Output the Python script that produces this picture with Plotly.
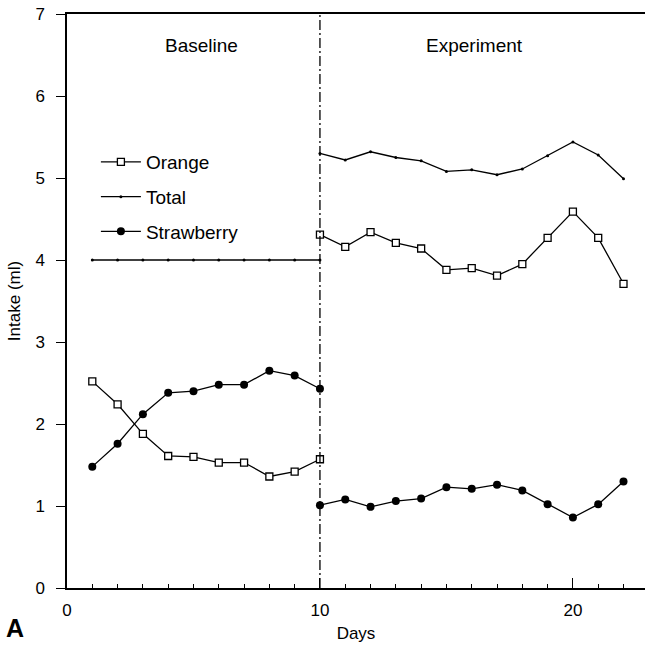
import plotly.graph_objects as go

# ---- data ----
days_baseline = [1, 2, 3, 4, 5, 6, 7, 8, 9, 10]
days_experiment = [10, 11, 12, 13, 14, 15, 16, 17, 18, 19, 20, 21, 22]

orange_baseline = [2.52, 2.24, 1.88, 1.61, 1.60, 1.53, 1.53, 1.36, 1.42, 1.57]
strawberry_baseline = [1.48, 1.76, 2.12, 2.38, 2.40, 2.48, 2.48, 2.65, 2.59, 2.43]
total_baseline = [4.0, 4.0, 4.0, 4.0, 4.0, 4.0, 4.0, 4.0, 4.0, 4.0]

orange_experiment = [4.31, 4.16, 4.34, 4.21, 4.14, 3.88, 3.90, 3.81, 3.95, 4.27, 4.59, 4.27, 3.71]
strawberry_experiment = [1.01, 1.08, 0.99, 1.06, 1.09, 1.23, 1.21, 1.26, 1.19, 1.02, 0.86, 1.02, 1.30]
total_experiment = [5.30, 5.22, 5.32, 5.25, 5.21, 5.08, 5.10, 5.04, 5.11, 5.27, 5.44, 5.28, 4.99]

x_ticks = [0, 10, 20]
y_ticks = [0, 1, 2, 3, 4, 5, 6, 7]
phase_change_day = 10

FONT = "Arial, Liberation Sans, sans-serif"

def joined(xa, ya, xb, yb):
    return list(xa) + [None] + list(xb), list(ya) + [None] + list(yb)

fig = go.Figure()

x_o, y_o = joined(days_baseline, orange_baseline, days_experiment, orange_experiment)
x_t, y_t = joined(days_baseline, total_baseline, days_experiment, total_experiment)
x_s, y_s = joined(days_baseline, strawberry_baseline, days_experiment, strawberry_experiment)

fig.add_trace(go.Scatter(
    x=x_o, y=y_o, name="Orange", mode="lines+markers", legendgroup="o",
    line=dict(color="black", width=1.3),
    marker=dict(symbol="square", size=7, color="white", line=dict(color="black", width=1.3)),
    connectgaps=False,
))
fig.add_trace(go.Scatter(
    x=x_t, y=y_t, name="Total", mode="lines+markers", legendgroup="t",
    line=dict(color="black", width=1.3),
    marker=dict(symbol="circle", size=3, color="black"),
    connectgaps=False,
))
fig.add_trace(go.Scatter(
    x=x_s, y=y_s, name="Strawberry", mode="lines+markers", legendgroup="s",
    line=dict(color="black", width=1.3),
    marker=dict(symbol="circle", size=8, color="black"),
    connectgaps=False,
))

fig.add_shape(type="line", xref="x", yref="y",
              x0=phase_change_day, x1=phase_change_day, y0=0, y1=7,
              line=dict(color="black", width=1.3, dash="10px,3px,2px,3px"))

fig.add_annotation(x=5.3, y=6.62, xref="x", yref="y", text="Baseline", showarrow=False,
                   font=dict(family=FONT, size=19, color="black"))
fig.add_annotation(x=16.1, y=6.62, xref="x", yref="y", text="Experiment", showarrow=False,
                   font=dict(family=FONT, size=19, color="black"))
fig.add_annotation(x=-0.09, y=-0.07, xref="paper", yref="paper", xanchor="center", yanchor="middle",
                   text="<b>A</b>", showarrow=False,
                   font=dict(family=FONT, size=25, color="black"))

fig.update_layout(
    width=645, height=647,
    margin=dict(l=67, r=0, t=14, b=59),
    paper_bgcolor="white", plot_bgcolor="white",
    font=dict(family=FONT, size=17, color="black"),
    showlegend=True,
    legend=dict(x=0.05, y=0.681, xanchor="left", yanchor="middle",
                bgcolor="rgba(0,0,0,0)", font=dict(family=FONT, size=19, color="black"),
                tracegroupgap=7, itemwidth=40),
    xaxis=dict(
        range=[0, 22.85], tickvals=x_ticks, ticktext=[str(v) for v in x_ticks],
        ticks="inside", ticklen=10, tickwidth=1.3, tickcolor="black",
        showline=True, linecolor="black", linewidth=1.5, mirror=True,
        showgrid=False, zeroline=False, ticklabelstandoff=6,
        minor=dict(dtick=1, tick0=0, ticks="inside", ticklen=4, tickcolor="black", tickwidth=1.2, showgrid=False),
        title=dict(text="Days", font=dict(family=FONT, size=17, color="black"), standoff=8),
        tickfont=dict(family=FONT, size=17, color="black"),
    ),
    yaxis=dict(
        range=[0, 7], tickvals=y_ticks,
        ticks="outside", ticklen=9, tickwidth=1.3, tickcolor="black",
        showline=True, linecolor="black", linewidth=1.5,
        showgrid=False, zeroline=False, ticklabelstandoff=8,
        title=dict(text="Intake (ml)", font=dict(family=FONT, size=17, color="black"), standoff=10),
        tickfont=dict(family=FONT, size=17, color="black"),
    ),
)

fig.write_html("out.html")
